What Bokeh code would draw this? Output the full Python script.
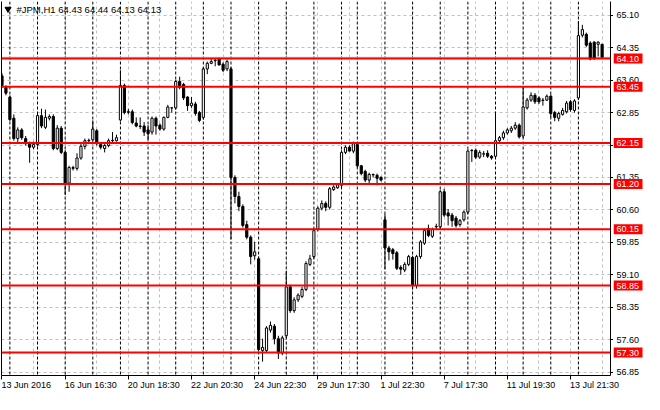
from bokeh.plotting import figure
from bokeh.models import Range1d, FixedTicker, LinearAxis, Span, Label
from bokeh.layouts import column, row
from bokeh.core.properties import value
from bokeh.embed import file_html
from bokeh.resources import INLINE

# ---- data (H1 bars, index 0 = 13 Jun 21:30) ----
open_prices = [63.70, 63.43, 63.21, 62.72, 62.25, 62.45, 62.25, 62.13, 62.05, 62.11,
               62.78, 62.51, 62.72, 62.76, 62.02, 62.49, 61.93, 61.22, 61.56, 61.56,
               61.80, 62.07, 62.20, 62.22, 62.43, 62.11, 62.02, 62.09, 62.20, 62.20,
               62.68, 63.48, 62.87, 62.87, 62.61, 62.54, 62.54, 62.45, 62.40, 62.72,
               62.56, 62.47, 62.74, 62.96, 62.96, 63.57, 63.50, 63.21, 63.01, 63.05,
               62.85, 62.74, 63.86, 63.99, 64.05, 64.10, 63.97, 63.86, 63.86, 61.35,
               60.91, 60.68, 60.26, 59.97, 59.54, 59.47, 57.35, 57.35, 57.82, 57.91,
               57.62, 57.29, 57.69, 58.82, 58.27, 58.52, 58.60, 58.76, 59.34, 59.52,
               60.15, 60.64, 60.75, 60.66, 61.07, 61.11, 61.17, 61.93, 62.05, 61.96,
               62.11, 61.62, 61.49, 61.29, 61.42, 61.40, 61.35, 60.37, 59.72, 59.68,
               59.61, 59.27, 59.21, 59.34, 59.50, 58.85, 59.52, 59.83, 60.17, 59.99,
               60.21, 60.21, 61.02, 60.53, 60.48, 60.41, 60.26, 60.37, 60.55, 61.98,
               61.98, 61.82, 61.89, 61.91, 61.84, 61.84, 62.20, 62.27, 62.38, 62.43,
               62.49, 62.56, 62.31, 62.96, 63.14, 63.25, 63.19, 63.14, 63.14, 63.23,
               62.85, 62.72, 62.81, 62.87, 63.10, 62.90, 63.19, 64.64, 64.66, 64.46,
               64.48, 64.43, 64.43]
high_prices = [63.76, 63.48, 63.25, 62.81, 62.51, 62.49, 62.31, 62.18, 62.18, 62.83,
               62.94, 62.92, 62.81, 62.81, 62.56, 62.54, 61.98, 61.62, 61.62, 61.91,
               62.13, 62.25, 62.25, 62.67, 62.47, 62.16, 62.13, 62.25, 62.40, 62.34,
               63.83, 63.52, 62.94, 62.92, 62.74, 62.74, 62.63, 62.56, 62.76, 62.76,
               62.60, 62.76, 63.03, 62.97, 63.61, 63.68, 63.54, 63.23, 63.21, 63.10,
               62.89, 63.90, 64.03, 64.10, 64.10, 64.12, 64.01, 64.08, 63.90, 61.40,
               61.02, 60.73, 60.35, 60.01, 59.86, 59.52, 57.62, 57.91, 58.02, 57.96,
               57.69, 57.69, 59.19, 58.87, 58.58, 58.67, 58.82, 59.41, 59.56, 60.17,
               60.68, 60.82, 60.80, 61.13, 61.17, 61.22, 61.98, 62.09, 62.09, 62.18,
               62.16, 61.64, 61.53, 61.46, 61.44, 61.44, 61.38, 60.50, 59.77, 59.72,
               59.65, 59.32, 59.39, 59.56, 59.54, 59.56, 59.90, 60.17, 60.26, 60.19,
               60.28, 61.06, 61.09, 60.62, 60.53, 60.46, 60.39, 60.59, 62.00, 62.00,
               62.02, 61.98, 61.96, 61.98, 61.87, 62.87, 62.31, 62.43, 62.49, 62.54,
               62.63, 62.60, 63.43, 63.19, 63.32, 63.30, 63.23, 63.19, 63.27, 63.27,
               62.89, 62.87, 62.96, 63.12, 63.14, 63.16, 64.97, 64.88, 64.70, 64.50,
               64.50, 64.50, 64.44]
low_prices = [63.43, 63.25, 62.65, 62.20, 62.13, 62.22, 62.09, 61.69, 62.00, 62.07,
              62.49, 62.47, 62.67, 61.98, 61.98, 61.89, 60.95, 61.02, 61.51, 61.51,
              61.76, 62.00, 62.13, 62.18, 62.09, 62.00, 61.93, 62.05, 62.16, 62.18,
              62.65, 62.81, 62.81, 62.58, 62.51, 62.47, 62.31, 62.20, 62.34, 62.34,
              62.43, 62.43, 62.72, 62.85, 62.92, 63.39, 63.14, 62.89, 62.96, 62.78,
              62.63, 62.69, 63.74, 63.97, 63.92, 63.95, 63.79, 63.81, 59.92, 60.75,
              60.57, 60.19, 59.92, 59.34, 59.45, 57.33, 57.09, 57.31, 57.76, 57.49,
              57.15, 57.24, 57.64, 58.22, 58.22, 58.47, 58.56, 58.72, 59.30, 59.47,
              60.10, 60.59, 60.57, 60.61, 61.04, 61.09, 61.13, 61.89, 61.96, 61.91,
              61.58, 61.40, 61.24, 61.20, 61.35, 61.17, 61.26, 59.23, 59.43, 59.45,
              59.21, 59.10, 59.16, 59.30, 58.78, 58.78, 59.47, 59.79, 59.97, 59.95,
              60.15, 60.17, 60.44, 60.24, 60.21, 60.19, 60.21, 60.33, 60.50, 61.71,
              61.78, 61.78, 61.82, 61.80, 61.76, 61.80, 62.16, 62.22, 62.34, 62.38,
              62.45, 62.25, 62.27, 62.92, 63.10, 63.05, 63.05, 63.01, 63.12, 62.74,
              62.65, 62.65, 62.78, 62.83, 62.87, 62.85, 63.14, 64.59, 64.37, 64.06,
              64.07, 64.15, 64.13]
close_prices = [63.48, 63.30, 62.69, 62.25, 62.45, 62.27, 62.13, 62.05, 62.11, 62.78,
                62.54, 62.74, 62.76, 62.02, 62.49, 61.93, 61.22, 61.58, 61.58, 61.80,
                62.07, 62.20, 62.21, 62.47, 62.13, 62.05, 62.09, 62.20, 62.21, 62.27,
                63.48, 62.85, 62.86, 62.62, 62.54, 62.53, 62.40, 62.36, 62.72, 62.54,
                62.47, 62.74, 62.98, 62.96, 63.57, 63.43, 63.19, 63.01, 63.07, 62.83,
                62.67, 63.86, 63.99, 64.03, 64.06, 63.95, 63.83, 64.03, 61.35, 60.91,
                60.68, 60.24, 59.97, 59.52, 59.63, 57.37, 57.42, 57.87, 57.93, 57.62,
                57.29, 57.64, 58.82, 58.27, 58.52, 58.63, 58.76, 59.36, 59.47, 60.12,
                60.64, 60.75, 60.66, 61.09, 61.13, 61.18, 61.93, 62.05, 61.96, 62.13,
                61.62, 61.44, 61.29, 61.42, 61.41, 61.33, 61.29, 59.72, 59.63, 59.59,
                59.25, 59.23, 59.34, 59.52, 58.85, 59.52, 59.86, 60.12, 60.01, 60.15,
                60.22, 61.02, 60.48, 60.46, 60.35, 60.24, 60.35, 60.55, 61.96, 61.97,
                61.82, 61.93, 61.90, 61.84, 61.80, 62.20, 62.27, 62.38, 62.45, 62.49,
                62.56, 62.29, 62.98, 63.14, 63.25, 63.10, 63.10, 63.13, 63.23, 62.83,
                62.74, 62.83, 62.90, 63.07, 62.92, 63.12, 64.63, 64.77, 64.41, 64.09,
                64.10, 64.48, 64.13]

x_tick_bars = [0, 16, 32, 48, 64, 80, 96, 112, 128, 144]
x_tick_labels = ["13 Jun 2016", "16 Jun 16:30", "20 Jun 18:30", "22 Jun 20:30",
                 "24 Jun 22:30", "29 Jun 17:30", "1 Jul 22:30", "7 Jul 17:30",
                 "11 Jul 19:30", "13 Jul 21:30"]
grid_bars = [0, 8, 16, 24, 32, 40, 48, 56, 64, 72, 80, 88, 96, 104, 112, 120, 128, 136, 144, 152]
day_start_bars = [2, 9, 16, 23, 30, 37, 44, 51, 58, 65, 72, 79, 86, 90, 97, 104,
                  111, 118, 125, 132, 139, 146]
price_ticks = [56.85, 57.60, 58.35, 59.10, 59.85, 60.60, 61.35, 62.10, 62.85,
               63.60, 64.35, 65.10]
level_prices = [64.10, 63.45, 62.15, 61.20, 60.15, 58.85, 57.30]
bid_price = 64.13
symbol_name = "#JPM,H1"
last_ohlc = [64.43, 64.44, 64.13, 64.13]

# ---- layout ----
W, H = 644, 394
RW = 31          # price-scale strip width
BH = 14          # time-scale strip height
WM, HM = W - RW, H - BH
BL, BR, BT, BB = 1, 3, 1, 5
FW = WM - BL - BR
FH = HM - BT - BB
x_start, x_end = -0.125, 154.125
y_start, y_end = 56.77, 65.42
ppx = FW / (x_end - x_start)
ppy = FH / (y_end - y_start)
FONT = "Liberation Sans"
FS = "9px"
FS_HEAD = "9.5px"

xr = Range1d(x_start, x_end)
yr = Range1d(y_start, y_end)

p = figure(width=WM, height=HM, output_backend="svg", toolbar_location=None,
           x_range=xr, y_range=yr, y_axis_location="right",
           min_border_left=BL, min_border_right=BR, min_border_top=BT, min_border_bottom=BB,
           background_fill_color="white", border_fill_color="white",
           outline_line_color=None)

# right price axis (ticks only; labels in strip)
ya = p.yaxis[0]
ya.ticker = FixedTicker(ticks=price_ticks)
ya.major_tick_out = 3
ya.major_tick_in = 0
ya.minor_tick_line_color = None
ya.axis_line_color = "black"
ya.major_tick_line_color = "black"
ya.major_label_standoff = 0
ya.major_label_text_font_size = "0px"
ya.major_label_text_color = None

# bottom time axis (ticks only; labels in strip)
xa = p.xaxis[0]
xa.ticker = FixedTicker(ticks=x_tick_bars)
xa.major_tick_out = 4
xa.major_tick_in = 0
xa.minor_tick_line_color = None
xa.axis_line_color = "black"
xa.major_tick_line_color = "black"
xa.major_label_standoff = 0
xa.major_label_text_font_size = "0px"
xa.major_label_text_color = None

# left border line
la = LinearAxis(ticker=FixedTicker(ticks=[]), major_tick_out=0, major_tick_in=0,
                minor_tick_out=0, minor_tick_in=0, major_label_standoff=0,
                axis_line_color="black", major_label_text_font_size="0px")
p.add_layout(la, "left")

# grids
p.xgrid.ticker = FixedTicker(ticks=grid_bars)
p.ygrid.ticker = FixedTicker(ticks=price_ticks)
for g in (p.xgrid, p.ygrid):
    g.grid_line_color = "#c0c0c0"
    g.grid_line_dash = "3 3"
    g.grid_line_width = 1

# period separators
for b in day_start_bars:
    p.add_layout(Span(location=b, dimension="height", line_color="black",
                      line_dash="3 2", line_width=1, level="underlay"))

# bid line
p.add_layout(Span(location=bid_price, dimension="width", line_color="#c0c0c0",
                  line_width=1, level="underlay"))

# candles
bars = list(range(len(open_prices)))
tops = [max(o, c) for o, c in zip(open_prices, close_prices)]
bottoms = [min(o, c) for o, c in zip(open_prices, close_prices)]
fills = ["white" if c >= o else "black" for o, c in zip(open_prices, close_prices)]
p.segment(x0=bars, y0=low_prices, x1=bars, y1=high_prices, line_color="black", line_width=1)
p.vbar(x=bars, width=0.55, top=tops, bottom=bottoms, fill_color=fills,
       line_color="black", line_width=1)

# horizontal levels
for lv in level_prices:
    p.add_layout(Span(location=lv, dimension="width", line_color="#ff0000", line_width=2))

# header
header = symbol_name + "  " + " ".join("%.2f" % v for v in last_ohlc)
p.add_layout(Label(x=x_start + 15.0 / ppx, y=y_end - 7.5 / ppy, text=header,
                   text_align="left", text_baseline="middle",
                   text_font=FONT, text_font_size=FS_HEAD, text_color="black"))
p.scatter(x=[x_start + 6.5 / ppx], y=[y_end - 7.5 / ppy], marker="inverted_triangle",
          size=6, fill_color="black", line_color="black")

# ---- price-scale strip ----
r = figure(width=RW, height=HM, output_backend="svg", toolbar_location=None,
           x_range=Range1d(0, RW), y_range=yr,
           x_axis_location=None, y_axis_location=None,
           min_border_left=0, min_border_right=0, min_border_top=BT, min_border_bottom=BB,
           background_fill_color="white", border_fill_color="white",
           outline_line_color=None)
r.xgrid.visible = False
r.ygrid.visible = False
tick_texts = ["%.2f" % v for v in price_ticks]
r.text(x=[3] * len(price_ticks), y=price_ticks, text=tick_texts,
       text_align="left", text_baseline="middle",
       text_font=value(FONT), text_font_size=value(FS), text_color="black")
r.rect(x=[14.5] * len(level_prices), y=level_prices, width=29, height=10,
       height_units="screen", fill_color="#ff0000", line_color=None)
r.text(x=[3] * len(level_prices), y=level_prices, text=["%.2f" % v for v in level_prices],
       text_align="left", text_baseline="middle",
       text_font=value(FONT), text_font_size=value(FS), text_color="white")

# ---- time-scale strip (full width so the last label may run under the price scale) ----
bst = figure(width=W, height=BH, output_backend="svg", toolbar_location=None,
             x_range=Range1d(x_start, x_start + (W - BL) / ppx), y_range=Range1d(0, BH),
             x_axis_location=None, y_axis_location=None,
             min_border_left=BL, min_border_right=0, min_border_top=0, min_border_bottom=0,
             background_fill_color="white", border_fill_color="white",
             outline_line_color=None)
bst.xgrid.visible = False
bst.ygrid.visible = False
bst.text(x=[b - 0.5 / ppx for b in x_tick_bars], y=[BH + 1] * len(x_tick_bars),
         text=x_tick_labels, text_align="left", text_baseline="top",
         text_font=value(FONT), text_font_size=value(FS), text_color="black")

layout = column(row(p, r, spacing=0), bst, spacing=0)
open("out.html", "w").write(file_html(layout, INLINE))
